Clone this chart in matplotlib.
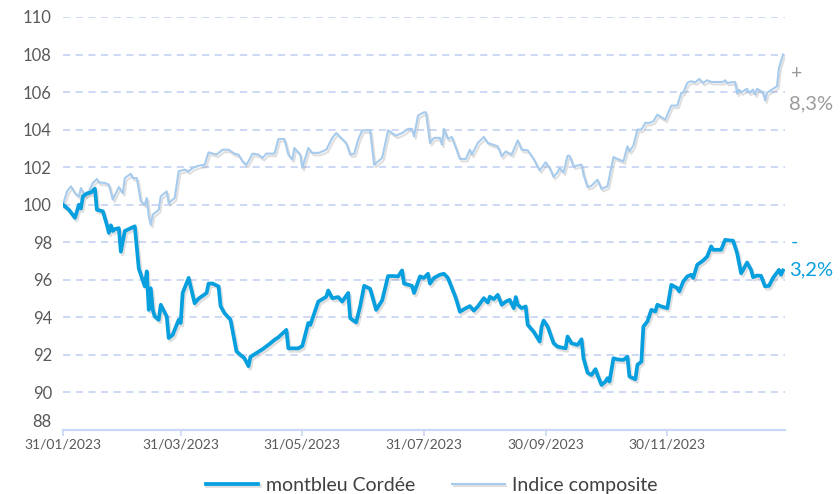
import pandas as pd
import matplotlib.pyplot as plt
import matplotlib.patheffects as pe

start = pd.Timestamp('2023-01-31')

# montbleu Cordée (day offset from 31/01/2023, base 100)
mb_days = [0, 3, 6, 8, 9, 10, 12, 14, 16, 17, 20, 22, 23, 24, 25, 26, 28, 29, 31, 34,
           36, 38, 41, 42, 43, 44, 45, 46, 48, 49, 52, 53, 55, 58, 59, 60, 63, 66, 68, 72,
           73, 75, 78, 79, 81, 84, 87, 91, 93, 94, 100, 104, 106, 108, 112, 113, 118, 120, 123, 124,
           128, 130, 132, 133, 135, 138, 140, 143, 144, 147, 149, 151, 154, 157, 160, 163, 166, 168, 170, 171,
           175, 176, 179, 181, 183, 184, 186, 189, 191, 193, 195, 197, 199, 202, 204, 206, 208, 211, 213, 214,
           216, 218, 220, 222, 224, 226, 227, 228, 230, 232, 233, 236, 239, 240, 241, 243, 246, 248, 252, 253,
           255, 258, 260, 261, 263, 265, 267, 268, 270, 272, 273, 274, 276, 278, 281, 283, 284, 287, 288, 290,
           291, 293, 295, 297, 298, 300, 303, 305, 308, 309, 311, 313, 315, 316, 318, 321, 323, 325, 326, 330,
           332, 334, 336, 338, 340, 341, 343, 345, 346, 348, 350, 352, 354, 356, 359, 360, 361]
mb_vals = [100.0, 99.73, 99.3, 100.0, 99.8, 100.45, 100.6, 100.65, 100.85, 99.73, 99.65, 98.93, 98.5, 98.9, 98.6, 98.7, 98.75, 97.5, 98.6, 98.75,
           98.85, 96.6, 95.65, 96.45, 94.4, 95.55, 94.4, 94.05, 93.87, 94.67, 94.05, 92.9, 93.07, 93.87, 93.7, 95.3, 96.1, 94.75, 95.0, 95.3,
           95.8, 95.8, 95.65, 94.6, 94.22, 93.87, 92.18, 91.82, 91.4, 91.9, 92.3, 92.62, 92.8, 92.94, 93.33, 92.35, 92.35, 92.48, 93.7, 93.6,
           94.84, 94.97, 95.1, 95.43, 95.02, 95.08, 94.84, 95.3, 93.96, 93.73, 94.6, 95.68, 95.52, 94.4, 94.9, 96.2, 96.2, 96.18, 96.5, 95.8,
           95.68, 95.3, 96.18, 96.1, 96.32, 95.8, 96.1, 96.27, 96.32, 96.1, 95.56, 95.02, 94.3, 94.49, 94.6, 94.36, 94.58, 95.02, 94.79, 95.1,
           94.97, 95.2, 94.67, 94.84, 94.93, 94.49, 95.08, 94.67, 94.49, 94.58, 93.6, 93.24, 92.71, 93.51, 93.83, 93.51, 92.62, 92.44, 92.35, 92.98,
           92.62, 92.53, 92.83, 91.82, 91.05, 90.93, 91.24, 90.93, 90.4, 90.58, 90.76, 90.58, 91.82, 91.76, 91.73, 91.91, 90.85, 90.7, 91.47, 91.64,
           93.51, 93.78, 94.4, 94.31, 94.67, 94.58, 94.49, 95.73, 95.56, 95.38, 95.91, 96.18, 96.27, 96.1, 96.8, 97.03, 97.24, 97.78, 97.6, 97.6,
           98.13, 98.1, 98.08, 97.42, 96.35, 96.53, 96.92, 96.53, 96.14, 96.23, 96.21, 95.65, 95.68, 96.1, 96.53, 96.27, 96.5]

# Indice composite
ic_days = [0, 2, 4, 6, 8, 9, 11, 13, 15, 17, 18, 21, 23, 25, 27, 28, 30, 31, 34, 35,
           37, 39, 41, 42, 43, 44, 45, 48, 49, 52, 53, 56, 58, 61, 63, 65, 68, 71, 73, 77,
           80, 83, 86, 88, 90, 92, 93, 95, 98, 100, 102, 106, 108, 111, 113, 115, 116, 119, 120, 123,
           125, 128, 129, 132, 135, 137, 139, 142, 144, 146, 148, 150, 154, 156, 160, 163, 167, 170, 173, 175,
           176, 178, 181, 182, 184, 186, 189, 190, 191, 193, 195, 199, 202, 204, 205, 208, 211, 213, 218, 220,
           222, 225, 228, 230, 233, 236, 239, 242, 244, 246, 248, 249, 251, 253, 254, 256, 260, 261, 263, 265,
           268, 270, 273, 276, 278, 281, 283, 284, 286, 288, 290, 292, 294, 296, 298, 302, 305, 308, 310, 311,
           313, 315, 317, 319, 321, 323, 325, 331, 332, 333, 337, 338, 339, 340, 343, 344, 346, 347, 348, 351,
           352, 353, 356, 358, 359, 361]
ic_vals = [100.0, 100.71, 100.98, 100.62, 100.44, 100.89, 100.48, 100.71, 101.16, 101.37, 101.19, 101.16, 101.07, 100.27, 100.71, 100.94, 100.62, 101.42, 101.65, 101.42,
           101.42, 100.18, 100.0, 100.36, 99.38, 98.93, 99.47, 99.73, 100.44, 100.71, 100.09, 100.36, 101.78, 101.87, 101.78, 101.96, 102.08, 102.13, 102.79, 102.67,
           102.93, 102.93, 102.72, 102.67, 102.31, 102.13, 102.31, 102.72, 102.67, 102.49, 102.72, 102.72, 103.5, 103.5, 102.67, 102.4, 103.02, 102.67, 101.96, 103.02,
           102.76, 102.76, 102.79, 102.93, 103.56, 103.82, 103.61, 103.29, 102.67, 102.72, 103.47, 103.96, 103.96, 102.13, 102.49, 103.96, 103.68, 103.82, 104.04, 104.04,
           103.64, 104.75, 104.92, 104.92, 103.29, 103.56, 103.56, 103.2, 104.04, 103.5, 103.61, 102.44, 102.44, 102.93, 102.67, 103.29, 103.61, 103.29, 103.11, 102.58,
           102.84, 102.67, 103.43, 102.93, 102.9, 102.44, 101.83, 102.26, 101.96, 101.48, 101.72, 101.96, 101.72, 102.61, 102.61, 102.04, 102.13, 101.6, 100.94, 101.01,
           101.33, 100.84, 100.98, 102.54, 102.44, 102.31, 103.11, 102.84, 103.15, 104.0, 104.0, 104.36, 104.36, 104.44, 104.8, 104.53, 105.28, 105.28, 105.96, 105.96,
           106.49, 106.58, 106.52, 106.7, 106.49, 106.63, 106.54, 106.54, 106.63, 106.49, 106.54, 105.92, 106.13, 105.99, 106.17, 105.96, 106.13, 105.87, 106.17, 105.99,
           105.56, 105.96, 106.17, 106.31, 107.29, 108.0]

tick_dates = ['2023-01-31', '2023-03-31', '2023-05-31', '2023-07-31', '2023-09-30', '2023-11-30']
tick_labels = ['31/01/2023', '31/03/2023', '31/05/2023', '31/07/2023', '30/09/2023', '30/11/2023']
y_ticks = list(range(88, 111, 2))

mb_dates = start + pd.to_timedelta(mb_days, unit='D')
ic_dates = start + pd.to_timedelta(ic_days, unit='D')

plt.rcParams['font.family'] = ['Lato', 'DejaVu Sans']

dark = '#089fdf'
light = '#a6cbed'
grid_c = '#c9d6f6'
txt = '#595959'

fig = plt.figure(figsize=(8.4, 4.94), dpi=100)
ax = fig.add_axes([0.075, 0.1296, 0.8595, 0.836])

shadow = [pe.SimpleLineShadow(offset=(1.2, -1.8), shadow_color='#808080', alpha=0.25), pe.Normal()]
ax.plot(ic_dates, ic_vals, color=light, lw=1.5, label='Indice composite', path_effects=shadow, zorder=3)
ax.plot(mb_dates, mb_vals, color=dark, lw=2.7, label='montbleu Cordée', path_effects=shadow, zorder=4)

ax.set_ylim(88, 110)
ax.set_xlim(start, start + pd.Timedelta(days=362))
ax.set_yticks(y_ticks)
ax.set_xticks(pd.to_datetime(tick_dates))
ax.set_xticklabels(tick_labels)

for y in y_ticks[1:]:
    ax.axhline(y, color=grid_c, lw=1.3, ls=(0, (4, 3)), zorder=1)

for s in ['top', 'right', 'left']:
    ax.spines[s].set_visible(False)
ax.spines['bottom'].set_color(grid_c)
ax.spines['bottom'].set_linewidth(1.6)
ax.tick_params(axis='y', length=0, labelsize=12, labelcolor=txt, pad=8)
ax.tick_params(axis='x', length=4, width=1.2, color=grid_c, labelsize=10, labelcolor=txt, pad=2)
# lift the bottom "88" a little, as in the original
ax.get_yticklabels()[0].set_va('bottom')

ax.text(1.008, 0.862, '+', transform=ax.transAxes, fontsize=14, color='#9a9a9a', ha='left', va='center')
ax.text(1.006, 0.79, '8,3%', transform=ax.transAxes, fontsize=14.5, color='#9a9a9a', ha='left', va='center')
ax.text(1.008, 0.455, '-', transform=ax.transAxes, fontsize=14, color=dark, ha='left', va='center')
ax.text(1.006, 0.388, '3,2%', transform=ax.transAxes, fontsize=14.5, color=dark, ha='left', va='center')

handles, labels = ax.get_legend_handles_labels()
fig.legend(handles[::-1], labels[::-1], loc='center', bbox_to_anchor=(0.514, 0.018), ncol=2,
           frameon=False, fontsize=14, handlelength=2.7, handletextpad=0.4, columnspacing=1.9,
           labelcolor='#404040')

fig.savefig('out.png', dpi=100, facecolor='white')
